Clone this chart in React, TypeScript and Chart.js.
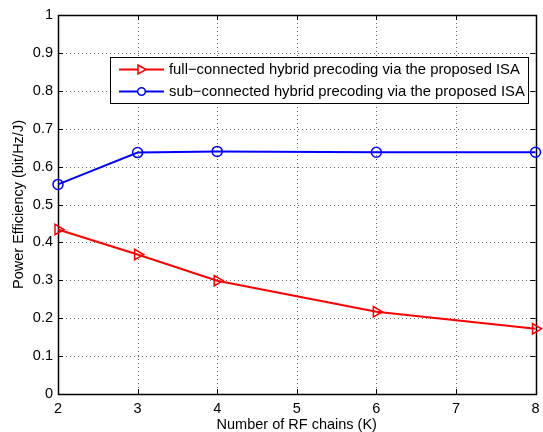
import React, { useEffect, useRef } from "react";
import { Chart, registerables } from "chart.js";

Chart.register(...registerables);

const rfChains = [2, 3, 4, 6, 8];
const fullConnected = [0.434, 0.368, 0.299, 0.217, 0.172];
const subConnected = [0.553, 0.637, 0.640, 0.638, 0.638];
const seriesNames = [
  "full\u2212connected hybrid precoding via the proposed ISA",
  "sub\u2212connected hybrid precoding via the proposed ISA",
];
const xTicks = [2, 3, 4, 5, 6, 7, 8];
const yTicks = [0, 0.1, 0.2, 0.3, 0.4, 0.5, 0.6, 0.7, 0.8, 0.9, 1];

const FONT = "'Liberation Sans', Arial, Helvetica, sans-serif";

const framePlugin = {
  id: "frame",
  beforeDatasetsDraw(chart: any) {
    const { ctx, chartArea: a, scales } = chart;
    const xs = scales.x;
    const ys = scales.y;
    ctx.save();
    ctx.strokeStyle = "#666";
    ctx.lineWidth = 1;
    ctx.setLineDash([1, 3]);
    for (const v of xTicks) {
      const px = Math.round(xs.getPixelForValue(v)) + 0.5;
      ctx.beginPath();
      ctx.moveTo(px, a.top);
      ctx.lineTo(px, a.bottom);
      ctx.stroke();
    }
    for (const v of yTicks) {
      const py = Math.round(ys.getPixelForValue(v)) + 0.5;
      ctx.beginPath();
      ctx.moveTo(a.left, py);
      ctx.lineTo(a.right, py);
      ctx.stroke();
    }
    ctx.setLineDash([]);
    ctx.strokeStyle = "#000";
    const tl = 5;
    for (const v of xTicks) {
      const px = Math.round(xs.getPixelForValue(v)) + 0.5;
      ctx.beginPath();
      ctx.moveTo(px, a.bottom);
      ctx.lineTo(px, a.bottom - tl);
      ctx.moveTo(px, a.top);
      ctx.lineTo(px, a.top + tl);
      ctx.stroke();
    }
    for (const v of yTicks) {
      const py = Math.round(ys.getPixelForValue(v)) + 0.5;
      ctx.beginPath();
      ctx.moveTo(a.left, py);
      ctx.lineTo(a.left + tl, py);
      ctx.moveTo(a.right, py);
      ctx.lineTo(a.right - tl, py);
      ctx.stroke();
    }
    ctx.lineWidth = 1.5;
    ctx.strokeRect(Math.round(a.left) + 0.5, Math.round(a.top) + 0.5, Math.round(a.right - a.left), Math.round(a.bottom - a.top));
    ctx.restore();
  },
  afterDatasetsDraw(chart: any) {
    const { ctx } = chart;
    ctx.save();
    const bx = 110.5, by = 57.5, bw = 418, bh = 46;
    ctx.fillStyle = "#fff";
    ctx.fillRect(bx, by, bw, bh);
    ctx.strokeStyle = "#000";
    ctx.lineWidth = 1;
    ctx.strokeRect(bx, by, bw, bh);
    const colors = ["#ff0000", "#0000ff"];
    const rows = [69.5, 91.5];
    ctx.font = `14.8px ${FONT}`;
    ctx.textBaseline = "middle";
    ctx.textAlign = "left";
    rows.forEach((y, i) => {
      ctx.strokeStyle = colors[i];
      ctx.lineWidth = 2;
      ctx.beginPath();
      ctx.moveTo(119, y);
      ctx.lineTo(164, y);
      ctx.stroke();
      ctx.lineWidth = 1.5;
      ctx.beginPath();
      if (i === 0) {
        ctx.moveTo(138, y - 4.5);
        ctx.lineTo(146, y);
        ctx.lineTo(138, y + 4.5);
        ctx.closePath();
      } else {
        ctx.arc(141.5, y, 3.8, 0, Math.PI * 2);
      }
      ctx.fillStyle = "#fff";
      ctx.fill();
      ctx.stroke();
      ctx.fillStyle = "#000";
      ctx.fillText(seriesNames[i], 169, y + 0.5);
    });
    ctx.restore();
  },
};

export default function App() {
  const ref = useRef<HTMLCanvasElement | null>(null);
  useEffect(() => {
    if (!ref.current) return;
    const chart = new Chart(ref.current, {
      type: "line",
      data: {
        datasets: [
          {
            label: seriesNames[0],
            data: rfChains.map((x, i) => ({ x, y: fullConnected[i] })),
            borderColor: "#ff0000",
            backgroundColor: "rgba(255,255,255,0)",
            borderWidth: 2,
            pointStyle: "triangle",
            rotation: 90,
            pointRadius: 6,
            pointBorderWidth: 1.5,
            pointBorderColor: "#ff0000",
            pointBackgroundColor: "rgba(255,255,255,0)",
            tension: 0,
            clip: false as any,
          },
          {
            label: seriesNames[1],
            data: rfChains.map((x, i) => ({ x, y: subConnected[i] })),
            borderColor: "#0000ff",
            backgroundColor: "rgba(255,255,255,0)",
            borderWidth: 2,
            pointStyle: "circle",
            pointRadius: 5,
            pointBorderWidth: 1.5,
            pointBorderColor: "#0000ff",
            pointBackgroundColor: "rgba(255,255,255,0)",
            tension: 0,
            clip: false as any,
          },
        ],
      },
      options: {
        animation: false,
        responsive: false,
        devicePixelRatio: 1,
        layout: { padding: { top: 15, right: 4, left: 0, bottom: 0 } },
        plugins: { legend: { display: false }, tooltip: { enabled: false } },
        scales: {
          x: {
            type: "linear",
            min: 2,
            max: 8,
            afterFit: (s: any) => { s.height = 38; s.paddingRight = 0; s.paddingLeft = 0; },
            afterBuildTicks: (s: any) => { s.ticks = xTicks.map((v) => ({ value: v })); },
            grid: { display: false, drawTicks: false },
            border: { display: false },
            ticks: { color: "#000", font: { family: FONT, size: 14.5 }, padding: 6, maxRotation: 0, autoSkip: false, callback: (v: any) => String(v) },
            title: { display: true, text: "Number of RF chains (K)", color: "#000", font: { family: FONT, size: 14.5 }, padding: { top: 0, bottom: -2 } },
          },
          y: {
            type: "linear",
            min: 0,
            max: 1,
            afterFit: (s: any) => { s.width = 58; s.paddingTop = 0; s.paddingBottom = 0; },
            afterBuildTicks: (s: any) => { s.ticks = yTicks.map((v) => ({ value: v })); },
            grid: { display: false, drawTicks: false },
            border: { display: false },
            ticks: { color: "#000", font: { family: FONT, size: 14.5 }, padding: 5, autoSkip: false, callback: (v: any) => String(Math.round(v * 10) / 10) },
            title: { display: true, text: "Power Efficiency (bit/Hz/J)", color: "#000", font: { family: FONT, size: 14.5 }, padding: { top: 10, bottom: 0 } },
          },
        },
      },
      plugins: [framePlugin],
    });
    return () => chart.destroy();
  }, []);
  return (
    <div style={{ position: "fixed", left: 0, top: 0, width: 543, height: 432, background: "#fff" }}>
      <canvas ref={ref} width={543} height={432} style={{ width: 543, height: 432, display: "block" }} />
    </div>
  );
}
